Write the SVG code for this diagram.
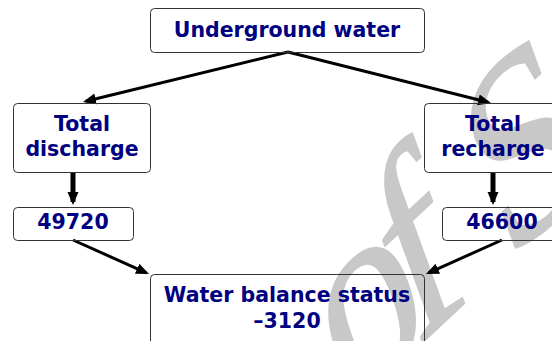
<svg xmlns="http://www.w3.org/2000/svg" width="552" height="341" viewBox="0 0 552 341">
  <style>
    .box { fill: none; stroke: #333333; stroke-width: 1; }
    .lbl { font-family: "DejaVu Sans", Verdana, sans-serif; font-weight: bold; font-size: 20.5px; fill: #000080; text-anchor: middle; }
    .wm { font-family: "Liberation Serif", "Times New Roman", serif; font-size: 230px; fill: #c8c8c8; stroke: #c8c8c8; stroke-width: 2; stroke-linejoin: round; }
    .conn { stroke: #000000; fill: none; stroke-linecap: butt; }
  </style>
  <defs>
    <marker id="ah" markerUnits="userSpaceOnUse" markerWidth="14" markerHeight="12" refX="10" refY="6" orient="auto">
      <path d="M0,0.5 L13,6 L0,11.5 Z" fill="#000000"/>
    </marker>
  </defs>
  <rect x="0" y="0" width="552" height="341" fill="#ffffff"/>
  <g id="watermark">
    <text class="wm" x="0" y="0" transform="translate(349.7 410.1) rotate(-43) skewX(-23)">o<tspan dx="-25">f</tspan><tspan dx="-10"> S</tspan></text>
  </g>
  <g id="connectors">
    <path class="conn" stroke-width="3" d="M288,52 L85.9,101.3" marker-end="url(#ah)"/>
    <path class="conn" stroke-width="3" d="M288,52 L488.1,102.3" marker-end="url(#ah)"/>
    <path class="conn" stroke-width="5" d="M73,172 L73,202" marker-end="url(#ah)"/>
    <path class="conn" stroke-width="5" d="M493,172 L493,202" marker-end="url(#ah)"/>
    <path class="conn" stroke-width="3" d="M73,240 L146.3,272.8" marker-end="url(#ah)"/>
    <path class="conn" stroke-width="3" d="M502,240 L428.7,272.8" marker-end="url(#ah)"/>
  </g>
  <g id="underground">
    <rect class="box" x="150.5" y="8.5" width="274" height="44" rx="4"/>
    <text class="lbl" x="287" y="37">Underground water</text>
  </g>
  <g id="discharge">
    <rect class="box" x="13.5" y="103.5" width="137" height="69" rx="4"/>
    <text class="lbl" x="82" y="130.5">Total</text>
    <text class="lbl" x="82" y="156">discharge</text>
  </g>
  <g id="discharge-value">
    <rect class="box" x="13.5" y="207.5" width="120" height="33" rx="4"/>
    <text class="lbl" x="73" y="229">49720</text>
  </g>
  <g id="recharge">
    <rect class="box" x="424.5" y="103.5" width="137" height="69" rx="4"/>
    <text class="lbl" x="493" y="130.5">Total</text>
    <text class="lbl" x="493" y="156">recharge</text>
  </g>
  <g id="recharge-value">
    <rect class="box" x="442.5" y="207.5" width="120" height="33" rx="4"/>
    <text class="lbl" x="502" y="229">46600</text>
  </g>
  <g id="balance">
    <rect class="box" x="150.5" y="274.5" width="274" height="80" rx="4"/>
    <text class="lbl" x="287" y="302">Water balance status</text>
    <text class="lbl" x="287" y="328">–3120</text>
  </g>
</svg>
